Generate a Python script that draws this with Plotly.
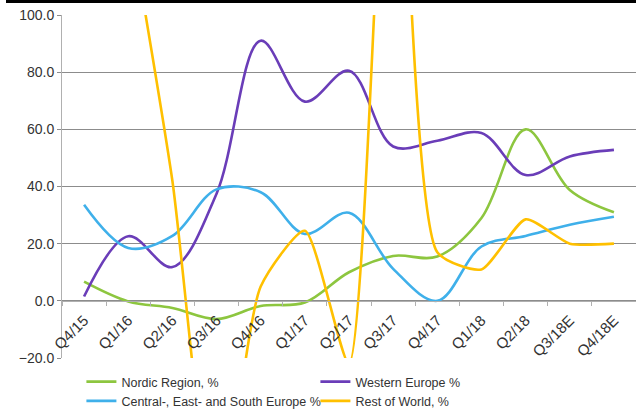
import plotly.graph_objects as go

quarters = ["Q4/15", "Q1/16", "Q2/16", "Q3/16", "Q4/16", "Q1/17", "Q2/17",
            "Q3/17", "Q4/17", "Q1/18", "Q2/18", "Q3/18E", "Q4/18E"]

nordic = [6.7, -0.2, -2.5, -6.4, -1.8, -0.6, 10.0, 15.7, 15.5, 29.0, 60.0, 38.8, 31.0]
western = [1.5, 22.6, 11.8, 37.5, 91.0, 69.7, 80.5, 54.0, 56.0, 58.7, 44.0, 50.5, 52.8]
central = [33.6, 18.5, 22.7, 39.0, 38.0, 23.4, 30.8, 11.2, 0.0, 19.0, 22.7, 26.6, 29.4]
rest_of_world = [None, 136.0, 42.0, -82.0, 5.0, 24.5, -22.0, 215.0, 17.0, 11.0, 28.5, 20.0, 20.0]

series = [
    ("Nordic Region, %", nordic, "#8DC63F", 1.0),
    ("Western Europe %", western, "#6A3DB8", 1.0),
    ("Central-, East- and South Europe %", central, "#3FB0EA", 1.0),
    ("Rest of World, %", rest_of_world, "#FFC000", 0.6),
]

fig = go.Figure()
for name, vals, color, smooth in series:
    fig.add_trace(go.Scatter(
        x=quarters, y=vals, name=name, mode="lines",
        line=dict(color=color, width=2.6, shape="spline", smoothing=smooth),
    ))

font = "Arial, Liberation Sans, sans-serif"
fig.update_layout(
    width=636, height=414,
    margin=dict(l=62, r=0, t=15, b=56, autoexpand=False),
    paper_bgcolor="white", plot_bgcolor="white",
    font=dict(family=font, size=14, color="#333333"),
    showlegend=True,
    legend=dict(
        orientation="h", xref="container", yref="container",
        x=0.128, y=(414 - 367) / 414, xanchor="left", yanchor="top",
        font=dict(family=font, size=12.5, color="#333333"),
        entrywidth=189, entrywidthmode="pixels",
        bgcolor="rgba(0,0,0,0)",
    ),
    xaxis=dict(
        type="category", range=[-0.5, 12.5],
        anchor="free", position=20 / 120, automargin=False,
        showgrid=False, showline=True, linecolor="#b0b0b0", linewidth=1,
        ticks="outside", tickson="boundaries", ticklen=4, tickcolor="#b0b0b0",
        tickangle=-45, tickfont=dict(size=15, color="#333333"),
        ticklabelstandoff=4,
        zeroline=False,
    ),
    yaxis=dict(
        range=[-20, 100], dtick=20, tick0=0, tickformat=".1f", automargin=False,
        showgrid=True, gridcolor="#8c8c8c", gridwidth=1,
        showline=True, linecolor="#b0b0b0", linewidth=1,
        ticks="outside", ticklen=4, tickcolor="#8c8c8c",
        zeroline=False, tickfont=dict(size=14, color="#333333"),
    ),
    shapes=[dict(
        type="rect", xref="paper", yref="paper",
        x0=(6 - 62) / 574, x1=1.0, y0=1 + 12 / 343, y1=1 + 15 / 343,
        fillcolor="black", line=dict(width=0),
    )],
)

fig.write_html("out.html")
